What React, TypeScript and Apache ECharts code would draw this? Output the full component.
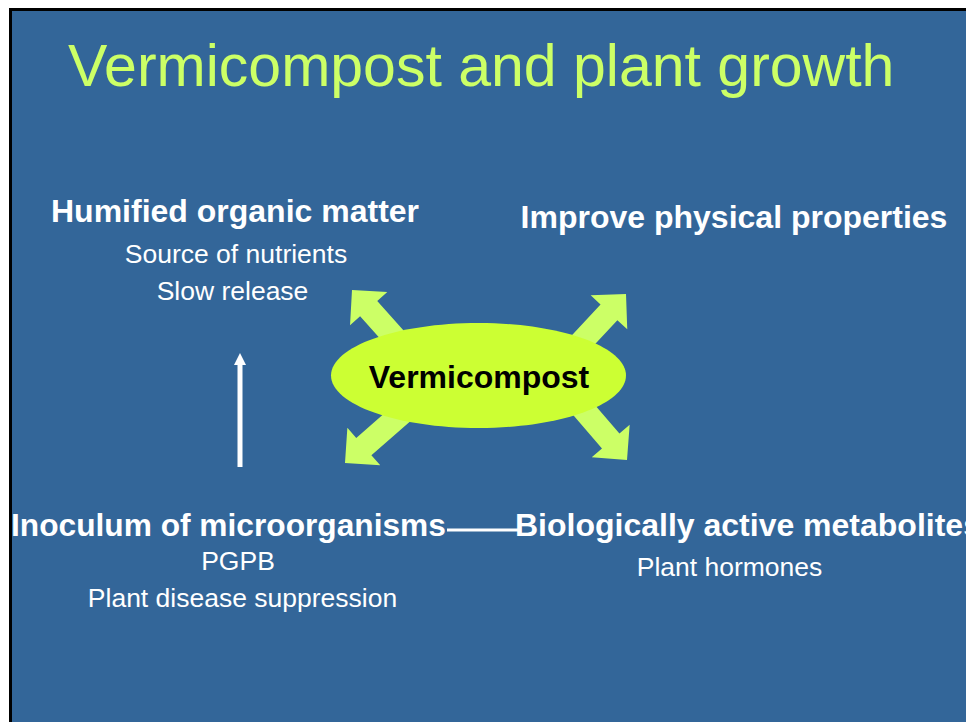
import React, { useEffect, useRef } from "react";
import * as echarts from "echarts";

const TITLE = "Vermicompost and plant growth";
const CENTER_LABEL = "Vermicompost";
const HEADINGS = [
  "Humified organic matter",
  "Improve physical properties",
  "Inoculum of microorganisms",
  "Biologically active metabolites",
];
const HUMIFIED_DETAILS = ["Source of nutrients", "Slow release"];
const INOCULUM_DETAILS = ["PGPB", "Plant disease suppression"];
const METABOLITE_DETAILS = ["Plant hormones"];

const FONT = '"Liberation Sans", Arial, Helvetica, sans-serif';
const BLUE = "#336699";
const LIME = "#CCFF66";
const ELLIPSE = "#CCFF33";

type Pt = [number, number];

function blockArrow(tip: Pt, dir: Pt, len: number, headLen: number, headHalf: number, shaftHalf: number): Pt[] {
  const m = Math.hypot(dir[0], dir[1]);
  const d: Pt = [dir[0] / m, dir[1] / m];
  const n: Pt = [-d[1], d[0]];
  const at = (back: number, side: number): Pt => [tip[0] - d[0] * back + n[0] * side, tip[1] - d[1] * back + n[1] * side];
  return [
    tip,
    at(headLen, headHalf),
    at(headLen, shaftHalf),
    at(len, shaftHalf),
    at(len, -shaftHalf),
    at(headLen, -shaftHalf),
    at(headLen, -headHalf),
  ];
}

const ARROWS: { tip: Pt; dir: Pt }[] = [
  { tip: [352, 290], dir: [-17, -19] },
  { tip: [626, 294], dir: [17.7, -19] },
  { tip: [345, 463], dir: [-18.3, 16] },
  { tip: [627, 460], dir: [18.3, 21.3] },
];

function txt(text: string, x: number, y: number, size: number, bold: boolean, align: string, fill = "#ffffff", z = 10) {
  return {
    type: "text",
    z,
    x,
    y,
    style: {
      text,
      fill,
      font: `${bold ? "bold " : ""}${size}px ${FONT}`,
      align,
      verticalAlign: "middle",
      textAlign: align,
      textVerticalAlign: "middle",
    },
  };
}

export default function App() {
  const ref = useRef<HTMLDivElement>(null);
  useEffect(() => {
    if (!ref.current) return;
    const chart = echarts.init(ref.current, undefined, { renderer: "svg" });
    const W = 966;
    const H = 722;
    const elements: any[] = [
      { type: "rect", z: 0, shape: { x: 9, y: 8, width: W - 9, height: H - 8 }, style: { fill: "#000000" } },
      { type: "rect", z: 1, shape: { x: 12, y: 11, width: W - 12, height: H - 11 }, style: { fill: BLUE } },
      txt(TITLE, 68, 66, 59, false, "left", LIME),
      ...ARROWS.map((a) => ({
        type: "polygon",
        z: 3,
        shape: { points: blockArrow(a.tip, a.dir, 95, 25, 25, 11.5) },
        style: { fill: LIME },
      })),
      { type: "ellipse", z: 4, shape: { cx: 478.5, cy: 375.5, rx: 147.5, ry: 52.5 }, style: { fill: ELLIPSE } },
      txt(CENTER_LABEL, 479, 377, 32, true, "center", "#000000", 5),
      txt(HEADINGS[0], 235, 211, 32, true, "center"),
      txt(HUMIFIED_DETAILS[0], 236, 254, 26.5, false, "center"),
      txt(HUMIFIED_DETAILS[1], 232.5, 291, 26.5, false, "center"),
      txt(HEADINGS[1], 734, 217, 32, true, "center"),
      txt(HEADINGS[2], 11, 524.5, 31.7, true, "left"),
      txt(INOCULUM_DETAILS[0], 238, 561, 26.5, false, "center"),
      txt(INOCULUM_DETAILS[1], 242.5, 598, 26.5, false, "center"),
      txt(HEADINGS[3], 515, 524.5, 32, true, "left"),
      txt(METABOLITE_DETAILS[0], 729.5, 567, 26.5, false, "center"),
      { type: "rect", z: 6, shape: { x: 237.5, y: 364, width: 5, height: 103 }, style: { fill: "#ffffff" } },
      { type: "polygon", z: 6, shape: { points: [[240, 353], [234, 365], [246, 365]] }, style: { fill: "#ffffff" } },
      { type: "line", z: 6, shape: { x1: 447, y1: 530, x2: 519, y2: 530 }, style: { stroke: "#ffffff", lineWidth: 3 } },
    ];
    chart.setOption({
      animation: false,
      backgroundColor: "#ffffff",
      graphic: { elements },
    });
    return () => chart.dispose();
  }, []);
  return <div ref={ref} style={{ position: "absolute", left: 0, top: 0, width: 966, height: 722 }} />;
}
